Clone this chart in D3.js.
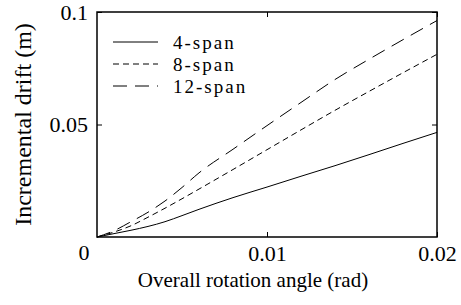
<!DOCTYPE html>
<meta charset="utf-8">
<style>
    body { margin: 0; background: #fff; }
    .axis path, .axis line { stroke: #000; }
</style>
<body>
<script src="https://cdn.jsdelivr.net/npm/d3@7"></script>
<script>

    var angle = [0, 0.001, 0.002, 0.003, 0.004, 0.005, 0.006, 0.008, 0.010, 0.012, 0.014, 0.016, 0.018, 0.020];
    var span4 = [0, 0.0015, 0.003, 0.0047, 0.0068, 0.0095, 0.0123, 0.0175, 0.0222, 0.027, 0.0317, 0.0366, 0.0416, 0.0465];
    var span8 = [0, 0.0022, 0.005, 0.0088, 0.0128, 0.017, 0.0213, 0.030, 0.0388, 0.0476, 0.0563, 0.0647, 0.073, 0.0812];
    var span12 = [0, 0.0028, 0.0068, 0.011, 0.016, 0.022, 0.0285, 0.039, 0.0495, 0.0598, 0.070, 0.079, 0.0877, 0.0962];
    var seriesNames = ["4-span", "8-span", "12-span"];
    var xTicks = [0.01, 0.02];
    var yTicks = [0.05, 0.1];

    var serif = "'Liberation Serif', 'DejaVu Serif', serif";

    var width = 461,
        height = 305;
    var margin = {left: 97, top: 12, right: 24, bottom: 68};

    var svg = d3.select("body").append("svg")
        .attr("width", width)
        .attr("height", height)
        .style("font-family", serif);

    var x = d3.scaleLinear().domain([0, 0.02]).range([margin.left, width - margin.right]);
    var y = d3.scaleLinear().domain([0, 0.1]).range([height - margin.bottom, margin.top]);

    var dashes = ["none", "6,4", "14,8"];
    var allSeries = [span4, span8, span12];

    // frame
    svg.append("rect")
        .attr("x", x(0)).attr("y", y(0.1))
        .attr("width", x(0.02) - x(0)).attr("height", y(0) - y(0.1))
        .attr("fill", "none").attr("stroke", "#000").attr("stroke-width", 1.5);

    // inward ticks on all four sides
    var fmt = function(d) { return d3.format("")(+d.toFixed(3)); };
    svg.append("g").attr("class", "axis")
        .attr("transform", "translate(0," + y(0) + ")")
        .call(d3.axisBottom(x).tickValues(xTicks).tickSizeInner(-5).tickSizeOuter(0).tickPadding(8).tickFormat(fmt))
        .call(function(g) { g.select(".domain").remove(); })
        .attr("font-family", null)
        .selectAll("text").style("font-size", "22px").style("font-family", serif).attr("dy", "0.71em");
    svg.append("g").attr("class", "axis")
        .attr("transform", "translate(0," + y(0.1) + ")")
        .call(d3.axisTop(x).tickValues(xTicks).tickSizeInner(-5).tickSizeOuter(0).tickFormat(""))
        .call(function(g) { g.select(".domain").remove(); });
    svg.append("g").attr("class", "axis")
        .attr("transform", "translate(" + x(0) + ",0)")
        .call(d3.axisLeft(y).tickValues(yTicks).tickSizeInner(-5).tickSizeOuter(0).tickPadding(9).tickFormat(fmt))
        .call(function(g) { g.select(".domain").remove(); })
        .attr("font-family", null)
        .selectAll("text").style("font-size", "22px").style("font-family", serif);
    svg.append("g").attr("class", "axis")
        .attr("transform", "translate(" + x(0.02) + ",0)")
        .call(d3.axisRight(y).tickValues(yTicks).tickSizeInner(-5).tickSizeOuter(0).tickFormat(""))
        .call(function(g) { g.select(".domain").remove(); });

    // shared origin label
    svg.append("text")
        .attr("x", x(0) - 13).attr("y", y(0) + 23)
        .attr("text-anchor", "middle")
        .style("font-size", "22px")
        .text("0");

    var line = d3.line()
        .curve(d3.curveMonotoneX)
        .x(function(d, i) { return x(angle[i]); })
        .y(function(d) { return y(d); });

    svg.selectAll(".series")
        .data(allSeries)
        .enter().append("path")
        .attr("class", "series")
        .attr("d", line)
        .attr("fill", "none")
        .attr("stroke", "#000")
        .attr("stroke-width", 1)
        .attr("stroke-dasharray", function(d, i) { return dashes[i]; });

    // legend
    var legend = svg.append("g").selectAll("g")
        .data(seriesNames)
        .enter().append("g")
        .attr("transform", function(d, i) { return "translate(113," + (42 + i * 22) + ")"; });
    legend.append("line")
        .attr("x1", 0).attr("x2", 45)
        .attr("stroke", "#000").attr("stroke-width", 1)
        .attr("stroke-dasharray", function(d, i) { return dashes[i]; });
    legend.append("text")
        .attr("x", 60).attr("dy", "0.35em")
        .style("font-size", "19px")
        .style("letter-spacing", "2px")
        .text(function(d) { return d; });

    // axis titles
    svg.append("text")
        .attr("x", 253).attr("y", 287)
        .attr("text-anchor", "middle")
        .style("font-size", "21px")
        .text("Overall rotation angle (rad)");
    svg.append("text")
        .attr("transform", "translate(31," + ((y(0) + y(0.1)) / 2) + ") rotate(-90)")
        .attr("text-anchor", "middle")
        .style("font-size", "24px")
        .text("Incremental drift (m)");

</script>
